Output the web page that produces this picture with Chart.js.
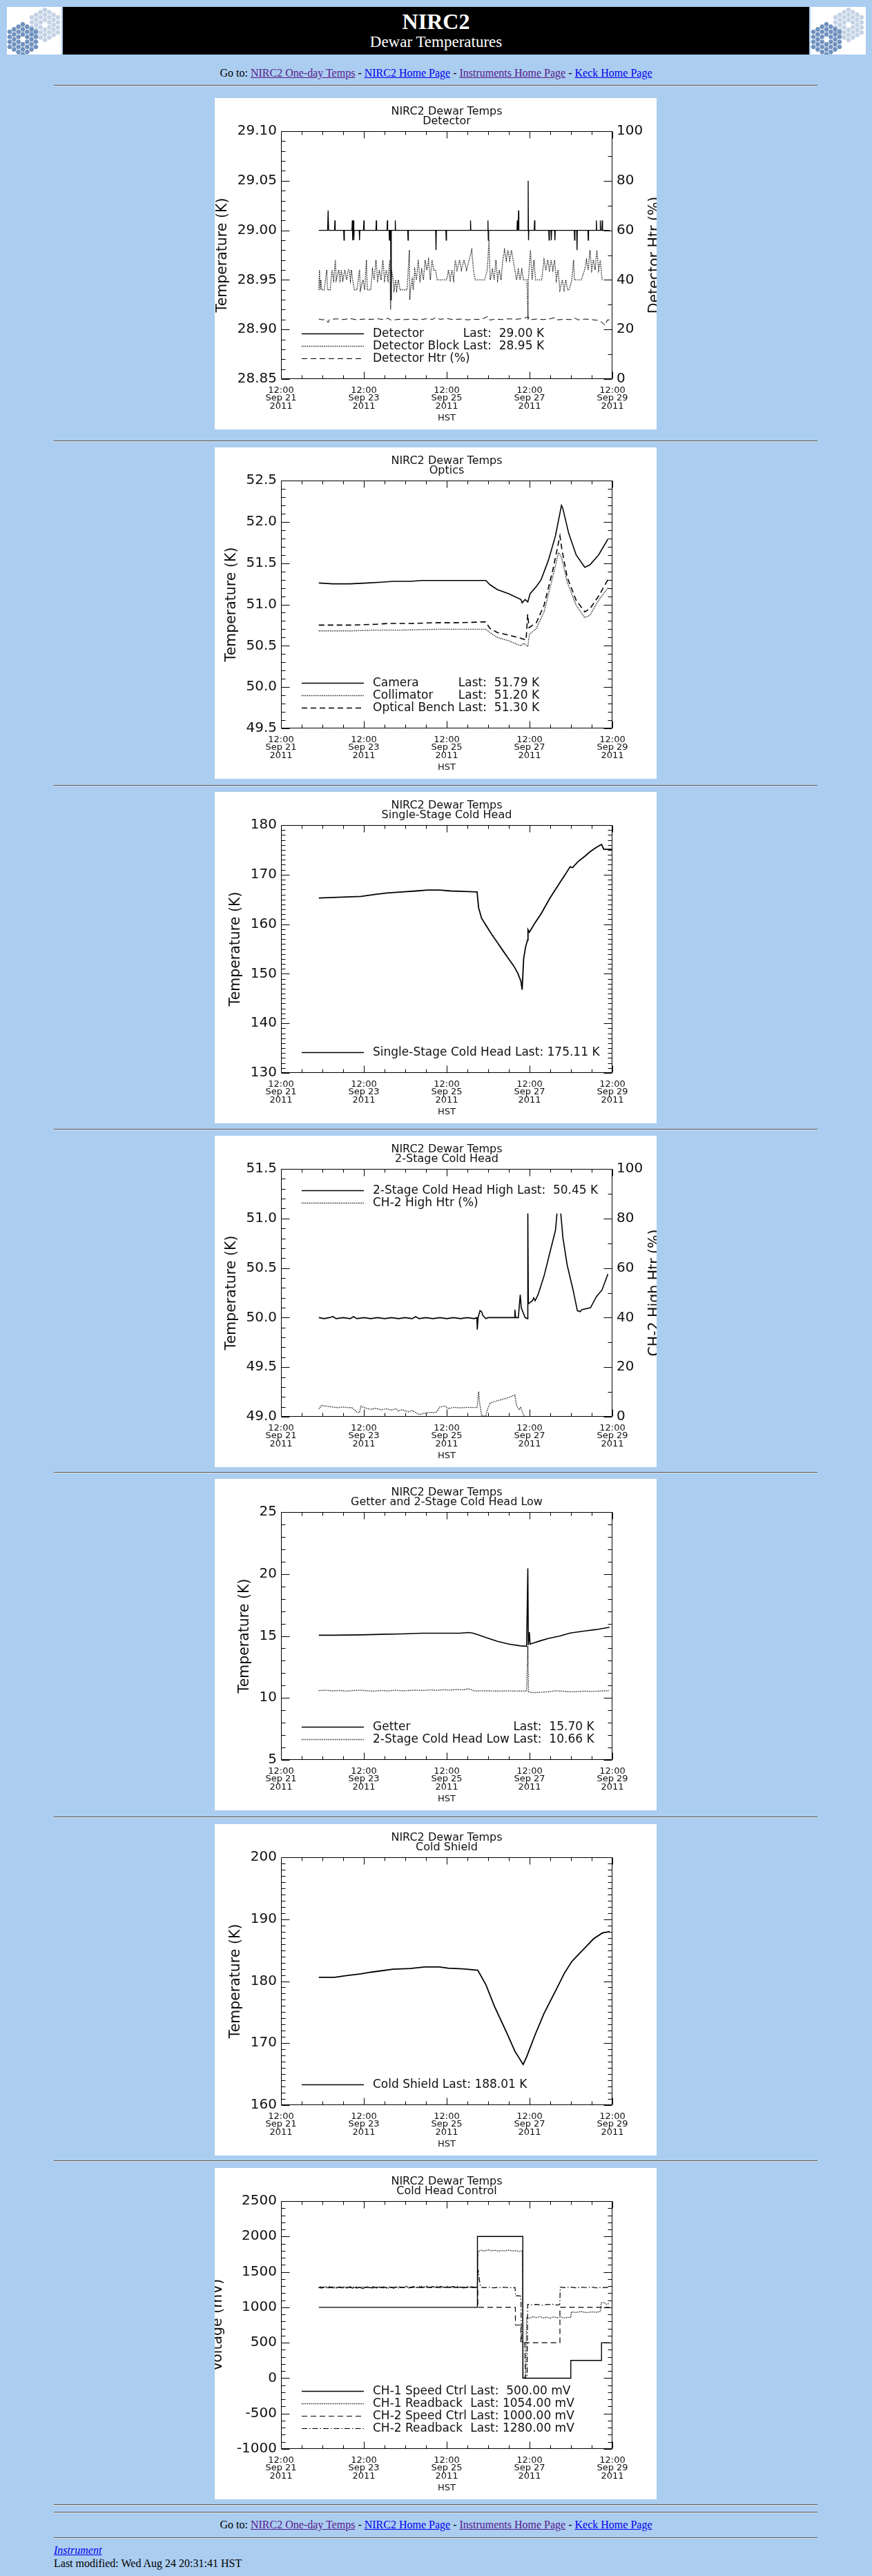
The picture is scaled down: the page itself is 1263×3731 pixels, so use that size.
<!DOCTYPE html>
<html lang="en">

<head>
    <meta charset="utf-8">
    <title>NIRC2 Dewar Temperatures</title>
    <script src="https://cdn.jsdelivr.net/npm/chart.js@4.4.0/dist/chart.umd.min.js"></script>
    <style>
        html, body {
            margin: 0;
            padding: 0;
            background: #abcdf0;
        }

        #page {
            position: relative;
            width: 1263px;
            height: 3731px;
            overflow: hidden;
            font-family: "Liberation Serif", "Times New Roman", serif;
            color: #000;
        }

        .banner { position: absolute; left: 10px; top: 10px; width: 1244px; height: 69px; }
        .banner svg { position: absolute; top: 0; height: 69px; }
        .banner .black { position: absolute; left: 81px; top: 0; width: 1081px; height: 69px; background: #000; color: #fff; text-align: center; }
        .banner .t1 { position: absolute; left: 0; right: 0; top: 5px; font-size: 32px; line-height: 32px; font-weight: bold; }
        .banner .t2 { position: absolute; left: 0; right: 0; top: 39px; font-size: 23px; line-height: 23px; }

        .goto { position: absolute; left: 0; width: 1263px; text-align: center; font-size: 16px; line-height: 16px; }
        a { color: #0000ee; }
        a.seen { color: #551a8b; }

        .rule { position: absolute; left: 78px; width: 1106px; height: 0; border-top: 1px solid #555; border-bottom: 1px solid #e4e4e4; }

        .panel { position: absolute; left: 311px; width: 640px; height: 480px; background: #fff; }

        .foot { position: absolute; left: 78px; font-size: 16px; line-height: 16px; }
    </style>
</head>

<body>
<div id="page">
    <div class="banner">
        <svg id="logoL" style="left:0;width:79px" viewBox="0 0 79 69"></svg>
        <div class="black">
            <div class="t1">NIRC2</div>
            <div class="t2">Dewar Temperatures</div>
        </div>
        <svg id="logoR" style="left:1164px;width:80px" viewBox="0 0 80 69"></svg>
    </div>

    <div class="goto" style="top:98px">Go to: <a class="seen" href="#">NIRC2 One-day Temps</a> - <a href="#">NIRC2 Home Page</a> - <a class="seen" href="#">Instruments Home Page</a> - <a href="#">Keck Home Page</a></div>
    <div class="rule" style="top:123px"></div>

    <canvas id="c1" class="panel" width="640" height="480" style="top:142px"></canvas>
    <div class="rule" style="top:638px"></div>
    <canvas id="c2" class="panel" width="640" height="480" style="top:648px"></canvas>
    <div class="rule" style="top:1137px"></div>
    <canvas id="c3" class="panel" width="640" height="480" style="top:1147px"></canvas>
    <div class="rule" style="top:1635px"></div>
    <canvas id="c4" class="panel" width="640" height="480" style="top:1645px"></canvas>
    <div class="rule" style="top:2132px"></div>
    <canvas id="c5" class="panel" width="640" height="480" style="top:2142px"></canvas>
    <div class="rule" style="top:2631px"></div>
    <canvas id="c6" class="panel" width="640" height="480" style="top:2642px"></canvas>
    <div class="rule" style="top:3129px"></div>
    <canvas id="c7" class="panel" width="640" height="480" style="top:3140px"></canvas>
    <div class="rule" style="top:3627px"></div>
    <div class="rule" style="top:3638px"></div>

    <div class="goto" style="top:3649px">Go to: <a class="seen" href="#">NIRC2 One-day Temps</a> - <a href="#">NIRC2 Home Page</a> - <a class="seen" href="#">Instruments Home Page</a> - <a href="#">Keck Home Page</a></div>
    <div class="rule" style="top:3675px"></div>

    <div class="foot" style="top:3686px"><a href="#"><i>Instrument</i></a></div>
    <div class="foot" style="top:3705px">Last modified: Wed Aug 24 20:31:41 HST</div>
</div>

<script>
    // ---- x axis: hours since 12:00 Sep 21 2011 (HST)
    const xTicks = [0, 48, 96, 144, 192];
    const xTickLabels = [
        ['12:00', 'Sep 21', '2011'],
        ['12:00', 'Sep 23', '2011'],
        ['12:00', 'Sep 25', '2011'],
        ['12:00', 'Sep 27', '2011'],
        ['12:00', 'Sep 29', '2011']
    ];
    const pctTicks = [0, 20, 40, 60, 80, 100];

    // ---- Detector
    const detTicks = [28.85, 28.90, 28.95, 29.00, 29.05, 29.10];
    const detectorPts = [[21.9,29.00],[27.0,29.00],[27.3,29.02],[27.6,29.00],[31.0,29.00],[31.2,29.01],[31.4,29.00],[36.3,29.00],[36.5,28.99],[36.7,29.00],[41.1,29.00],[41.3,29.01],[41.5,28.99],[41.7,29.00],[42.0,29.01],[42.2,28.99],[42.4,29.00],[45.3,29.00],[45.5,28.99],[45.7,29.00],[47.8,29.00],[48.0,29.01],[48.2,29.00],[55.0,29.00],[55.2,29.01],[55.4,29.00],[61.4,29.00],[61.6,29.01],[61.8,29.00],[62.6,29.00],[62.8,28.99],[63.0,29.00],[63.5,29.00],[63.7,28.93],[63.9,29.00],[66.0,29.00],[66.2,29.01],[66.4,29.00],[73.4,29.00],[73.6,28.99],[73.8,29.00],[89.6,29.00],[89.8,28.98],[90.0,29.00],[95.5,29.00],[95.7,28.99],[95.9,29.00],[109.6,29.00],[109.8,29.01],[110.0,29.00],[119.7,29.00],[119.9,29.01],[120.1,28.99],[120.3,29.00],[136.7,29.00],[136.9,29.01],[137.1,29.00],[137.4,29.00],[137.6,29.02],[137.8,29.00],[143.0,29.00],[143.2,29.05],[143.4,28.99],[143.6,29.00],[146.7,29.00],[146.9,29.01],[147.1,29.00],[155.1,29.00],[155.3,28.99],[155.5,29.00],[156.4,29.00],[156.6,28.99],[156.8,29.00],[158.5,29.00],[158.7,28.99],[158.9,29.00],[169.9,29.00],[170.1,28.99],[170.3,29.00],[171.3,29.00],[171.5,28.98],[171.7,29.00],[177.8,29.00],[178.0,28.99],[178.2,29.00],[182.5,29.00],[182.7,29.01],[182.9,29.00],[184.8,29.00],[185.0,29.01],[185.2,29.00],[185.9,29.00],[186.1,29.01],[186.3,29.00],[190.3,29.00]];
    const detBlockPts = [[21.9,28.94],[22.3,28.96],[22.7,28.94],[23.1,28.95],[23.6,28.94],[25.0,28.94],[26.5,28.96],[27.0,28.94],[28.5,28.94],[29.5,28.96],[30.5,28.95],[31.5,28.97],[32.0,28.95],[33.5,28.96],[34.2,28.95],[35.0,28.96],[35.8,28.95],[37.0,28.96],[38.0,28.95],[39.0,28.96],[39.6,28.96],[40.2,28.95],[40.8,28.96],[41.5,28.95],[42.5,28.94],[44.0,28.94],[45.5,28.96],[46.0,28.94],[47.5,28.95],[48.5,28.94],[49.5,28.97],[50.0,28.94],[52.0,28.94],[53.0,28.96],[54.0,28.95],[55.0,28.97],[56.0,28.95],[57.0,28.96],[58.0,28.95],[59.0,28.97],[60.0,28.95],[61.0,28.96],[62.0,28.95],[63.0,28.97],[63.5,28.92],[64.0,28.96],[65.0,28.95],[65.5,28.94],[66.5,28.95],[67.0,28.94],[68.0,28.95],[69.0,28.94],[71.0,28.94],[73.0,28.94],[74.4,28.98],[74.6,28.93],[75.0,28.94],[76.0,28.95],[76.6,28.94],[77.5,28.96],[78.5,28.95],[79.5,28.97],[80.5,28.95],[81.5,28.96],[82.5,28.95],[83.5,28.97],[84.5,28.96],[85.5,28.97],[86.5,28.95],[87.5,28.97],[88.5,28.96],[89.5,28.96],[90.5,28.95],[92.0,28.95],[94.0,28.95],[96.0,28.95],[97.0,28.96],[98.0,28.95],[99.0,28.96],[100.0,28.95],[101.0,28.97],[102.0,28.96],[103.5,28.97],[104.5,28.96],[106.0,28.97],[107.5,28.96],[109.0,28.97],[110.5,28.98],[111.5,28.96],[112.5,28.95],[114.0,28.95],[116.0,28.95],[118.0,28.95],[119.5,28.96],[120.5,28.99],[121.2,28.95],[122.5,28.96],[123.5,28.95],[124.5,28.97],[125.5,28.95],[126.5,28.96],[127.5,28.95],[128.5,28.97],[129.5,28.98],[130.5,28.97],[131.5,28.98],[132.5,28.97],[133.5,28.98],[134.5,28.97],[135.5,28.96],[136.5,28.95],[137.5,28.96],[138.5,28.95],[139.5,28.96],[140.5,28.95],[142.5,28.95],[143.1,28.91],[143.3,28.95],[144.5,28.98],[145.5,28.95],[146.5,28.97],[147.5,28.95],[149.0,28.95],[151.0,28.95],[152.4,28.97],[153.5,28.96],[154.5,28.97],[155.5,28.96],[156.5,28.97],[157.5,28.96],[158.5,28.97],[159.5,28.95],[160.5,28.96],[161.6,28.94],[163.0,28.95],[164.0,28.94],[165.0,28.95],[166.0,28.94],[167.0,28.94],[168.5,28.95],[169.5,28.97],[170.0,28.95],[172.0,28.95],[174.0,28.95],[175.9,28.96],[177.0,28.97],[178.0,28.96],[179.0,28.98],[180.0,28.96],[181.0,28.97],[182.0,28.96],[183.0,28.98],[184.0,28.96],[185.0,28.97],[186.0,28.95]];
    const detHtrPts = [[21.9,24.2],[24,23.9],[26,24.1],[27.3,22.8],[28,24.0],[32,24.3],[36,24.0],[40,24.4],[44,23.9],[48,24.2],[52,24.1],[56,24.3],[60,24.0],[62,24.5],[64,23.7],[68,24.1],[72,24.0],[76,24.2],[80,23.9],[84,24.3],[88,24.1],[89.8,24.9],[92,24.1],[96,24.4],[100,24.0],[104,24.2],[108,23.9],[112,24.1],[116,24.0],[119.9,25.3],[121,23.8],[124,24.2],[128,24.0],[132,24.3],[136,24.1],[140,24.4],[143.2,25.1],[144,23.9],[148,24.2],[152,24.0],[156,24.3],[158.7,24.8],[160,23.9],[164,24.1],[168,24.0],[170,24.7],[172,23.9],[176,24.2],[180,24.0],[184,23.6],[186,22.8],[188,21.6],[189,23.8],[190.3,23.9]];
    const detLast = ['Last:  29.00 K', 'Last:  28.95 K', ''];

    // ---- Optics
    const optTicks = [49.5, 50.0, 50.5, 51.0, 51.5, 52.0, 52.5];
    const cameraPts = [[21.9,51.26],[30,51.25],[40,51.25],[50,51.26],[58,51.27],[65,51.28],[75,51.28],[81.6,51.29],[100,51.29],[118.7,51.29],[121,51.24],[125.4,51.18],[132,51.13],[139,51.06],[139.7,51.02],[141.4,51.06],[143,51.03],[144.3,51.13],[148,51.22],[150.7,51.30],[155,51.54],[159,51.83],[162.5,52.20],[163.3,52.16],[166.7,51.86],[171,51.60],[176,51.45],[179,51.48],[184,51.60],[189.4,51.79]];
    const collimatorPts = [[21.9,50.68],[40,50.68],[55,50.69],[70,50.69],[90,50.70],[118.7,50.70],[121,50.66],[125.4,50.60],[132,50.56],[139,50.50],[140.6,50.53],[143,50.49],[143.9,50.64],[148,50.71],[152.4,50.91],[157.4,51.33],[160.8,51.63],[162.5,51.57],[165.8,51.27],[171,50.99],[176,50.84],[179,50.87],[184,51.05],[189.4,51.20]];
    const benchPts = [[21.9,50.75],[40,50.75],[55,50.76],[62,50.77],[75,50.77],[90,50.78],[105,50.78],[118.7,50.79],[121,50.71],[125.4,50.66],[132,50.63],[139,50.59],[142,50.57],[142.9,50.88],[143.7,50.72],[148,50.78],[152.4,50.99],[157.4,51.41],[161.6,51.83],[162.8,51.66],[165.8,51.33],[171,51.05],[176,50.91],[179,50.95],[184,51.10],[189.4,51.30]];
    const optLast = ['Last:  51.79 K', 'Last:  51.20 K', 'Last:  51.30 K'];

    // ---- Single-Stage Cold Head
    const ch1Ticks = [130, 140, 150, 160, 170, 180];
    const coldHeadPts = [[21.9,165.3],[30,165.4],[38,165.5],[46.3,165.6],[54,166.0],[61.4,166.3],[70,166.5],[78,166.7],[85,166.9],[92,166.9],[98.5,166.7],[106,166.6],[113.6,166.5],[114.5,163.3],[116.2,161.2],[118.7,159.8],[122,158.0],[125.4,156.3],[128.7,154.6],[132.1,152.9],[135,151.5],[137.2,150.1],[139.0,148.5],[139.7,146.8],[140.6,153.1],[141.7,155.4],[142.8,156.8],[143.1,158.9],[143.9,158.4],[147,160.2],[150.7,162.1],[155.7,165.2],[161.6,168.4],[165,170.2],[167.5,171.6],[168.9,171.4],[172,172.6],[176,173.7],[179,174.6],[182.7,175.5],[185.7,176.1],[187,175.1],[192,175.1]];
    const ch1Last = ['Last: 175.11 K'];

    // ---- 2-Stage Cold Head
    const ch2Ticks = [49.0, 49.5, 50.0, 50.5, 51.0, 51.5];
    const ch2HighPts = [[21.9,50.00],[25,49.99],[28,50.00],[30,50.01],[32,49.99],[36,50.00],[40,49.99],[42,50.01],[44,49.99],[48,50.00],[52,49.99],[56,50.00],[60,49.99],[64,50.00],[68,49.99],[72,50.00],[76,49.99],[78,50.01],[80,49.99],[84,50.00],[88,49.99],[92,50.00],[96,49.99],[100,50.00],[104,49.99],[108,50.00],[112,49.99],[113.5,50.00],[113.7,49.88],[114.2,50.00],[115.3,50.07],[116.2,50.06],[117,50.02],[118.7,49.99],[120,50.00],[135.3,50.00],[135.5,50.08],[135.9,50.00],[137.5,50.00],[138.6,50.23],[139.2,50.10],[141.4,50.00],[142.8,49.99],[143.0,51.05],[143.3,50.14],[145.6,50.17],[146.4,50.20],[147.2,50.17],[148.9,50.23],[152.4,50.42],[155.7,50.65],[159.0,50.88],[159.9,51.05],[161.0,null],[162.1,51.05],[163.3,50.81],[165.8,50.53],[169.2,50.28],[171.7,50.07],[173.4,50.06],[174.2,50.08],[179.3,50.10],[182.7,50.21],[186.0,50.28],[189.4,50.44]];
    const ch2HtrPts = [[21.9,3.2],[23.6,4.6],[26,4.3],[29,4.0],[32.8,3.7],[36,3.9],[39,3.7],[41.2,3.7],[43.8,1.9],[45.5,1.8],[46.3,4.2],[49.6,3.4],[52,3.0],[55,3.4],[58,2.8],[61,3.2],[64,2.7],[66.7,3.3],[68,2.3],[70,2.9],[73.7,2.0],[76,2.5],[80,0.9],[83,1.4],[86,1.7],[90,1.8],[92,3.9],[95,4.3],[97,3.3],[100,3.8],[104,3.6],[108,3.8],[113.6,3.7],[114.5,10.2],[115,6.0],[116.2,0.5],[118.7,0.2],[119.5,2.8],[121.2,5.6],[125.4,6.5],[130.5,7.4],[135.5,8.8],[136.4,4.6],[138,2.8],[138.9,3.7],[140.6,0.5],[142,0],[190,0]];
    const ch2Last = ['Last:  50.45 K', ''];

    // ---- Getter and 2-Stage Cold Head Low
    const getTicks = [5, 10, 15, 20, 25];
    const getterPts = [[21.9,15.06],[30,15.06],[46,15.09],[58,15.13],[70,15.17],[81.6,15.22],[95,15.22],[103.5,15.22],[108.5,15.28],[111,15.24],[114.5,15.09],[118.7,14.87],[125.4,14.57],[132,14.35],[138.9,14.20],[142.3,14.17],[143.0,20.46],[143.3,14.26],[143.9,15.30],[144.3,14.35],[150.7,14.63],[155,14.80],[161.6,15.00],[167.5,15.24],[176,15.40],[182.7,15.52],[189.4,15.68],[190.3,15.70]];
    const ch2LowPts = [[21.9,10.59],[26,10.62],[30,10.57],[34,10.60],[38,10.55],[42,10.60],[46,10.62],[50,10.58],[54,10.55],[58,10.60],[62,10.57],[66,10.62],[70,10.58],[74,10.60],[78,10.63],[82,10.60],[86,10.65],[90,10.62],[94,10.66],[98,10.64],[102,10.68],[105,10.65],[108.8,10.74],[110,10.68],[112,10.56],[116,10.58],[120,10.57],[124,10.56],[128,10.55],[132,10.57],[136,10.55],[140,10.56],[142.3,10.56],[143.0,14.17],[143.4,10.50],[145.6,10.43],[150,10.45],[155,10.50],[159,10.57],[163,10.55],[167,10.50],[172,10.52],[176,10.55],[180,10.52],[185,10.56],[189.4,10.58],[190.3,10.66]];
    const getLast = ['Last:  15.70 K', 'Last:  10.66 K'];

    // ---- Cold Shield
    const shieldTicks = [160, 170, 180, 190, 200];
    const coldShieldPts = [[21.9,180.63],[31.1,180.63],[38,180.9],[46.3,181.19],[52,181.45],[58,181.67],[64.8,181.93],[74.9,182.04],[83.3,182.3],[91.7,182.3],[96.8,182.1],[105.3,182.0],[114,181.78],[118.7,179.44],[123.7,175.93],[130.5,171.85],[135.5,168.7],[140.3,166.56],[142.3,167.78],[147.4,171.48],[152.4,174.8],[159.2,178.5],[164.2,181.3],[168.4,183.15],[171,183.9],[176,185.37],[181.1,186.85],[186.2,187.78],[190.4,188.01]];
    const shieldLast = ['Last: 188.01 K'];

    // ---- Cold Head Control
    const voltTicks = [-1000, -500, 0, 500, 1000, 1500, 2000, 2500];
    const ch1CtrlPts = [[21.9,1000],[113.8,2000],[140.1,0],[167.9,250],[185.7,500],[190.4,500]];
    const ch1ReadPts = [[21.9,1275],[23,1290],[24.5,1280],[26,1295],[27.5,1270],[29,1285],[30.5,1290],[32,1272],[33.5,1286],[35,1278],[36.5,1293],[38,1270],[39.5,1284],[41,1276],[42.5,1290],[44,1268],[45.5,1282],[47,1288],[48.5,1273],[50,1291],[51.5,1279],[53,1270],[54.5,1287],[56,1281],[57.5,1294],[59,1275],[60.5,1283],[62,1270],[63.5,1288],[65,1279],[66.5,1292],[68,1274],[69.5,1286],[71,1280],[72.5,1295],[74,1271],[75.5,1285],[77,1290],[78.5,1276],[80,1288],[81.5,1295],[83,1280],[84.5,1300],[86,1278],[87.5,1290],[89,1283],[90.5,1296],[92,1275],[93.5,1289],[95,1280],[96.5,1298],[98,1277],[99.5,1290],[101,1284],[102.5,1293],[104,1276],[105.5,1288],[107,1281],[108.5,1292],[110,1275],[111.5,1287],[113,1280],[113.8,1290],[114.2,1790],[116,1805],[118,1795],[120,1812],[122,1798],[124,1806],[126,1792],[128,1803],[130,1797],[132,1810],[134,1795],[136,1802],[138,1790],[139.8,1800],[140.3,20],[141.8,0],[142.3,860],[144,848],[146,866],[148,855],[150,870],[152,850],[154,862],[156,845],[158,868],[160,852],[162,865],[164,848],[166,860],[167.9,855],[168.2,935],[171,928],[174,940],[177,925],[180,936],[183,930],[185.2,945],[185.5,1060],[187,1070],[188.5,1045],[190.4,1054]];
    const ch2CtrlPts = [[21.9,1280],[114.0,1000],[135.8,750],[139.0,500],[161.6,1000],[190.4,1000]];
    const ch2ReadPts = [[21.9,1282],[23.5,1270],[25,1288],[26.5,1276],[28,1292],[29.5,1280],[31,1268],[32.5,1285],[34,1290],[35.5,1274],[37,1286],[38.5,1279],[40,1293],[41.5,1271],[43,1284],[44.5,1290],[46,1277],[47.5,1266],[49,1288],[50.5,1282],[52,1275],[53.5,1291],[55,1270],[56.5,1284],[58,1278],[59.5,1290],[61,1273],[62.5,1287],[64,1281],[65.5,1269],[67,1286],[68.5,1292],[70,1277],[71.5,1284],[73,1295],[74.5,1278],[76,1289],[77.5,1296],[79,1282],[80.5,1291],[82,1276],[83.5,1299],[85,1285],[86.5,1280],[88,1294],[89.5,1277],[91,1288],[92.5,1298],[94,1282],[95.5,1291],[97,1279],[98.5,1287],[100,1295],[101.5,1278],[103,1290],[104.5,1283],[106,1274],[107.5,1289],[109,1280],[110.5,1292],[112,1277],[113.6,1285],[114.3,1530],[114.9,1390],[115.6,1290],[117,1278],[120,1282],[123,1276],[126,1280],[129,1284],[132,1277],[135.6,1280],[135.9,1160],[137,1165],[139.0,1158],[139.3,520],[141.2,500],[141.6,0],[142.6,0],[142.9,1040],[145,1035],[148,1042],[151,1030],[154,1038],[157,1044],[160,1032],[161.5,1040],[161.8,1285],[165,1278],[168,1284],[171,1276],[174,1282],[177,1279],[180,1286],[183,1274],[186,1281],[190.4,1280]];
    const voltLast = ['Last:  500.00 mV', 'Last: 1054.00 mV', 'Last: 1000.00 mV', 'Last: 1280.00 mV'];

    // ---- styling
    Chart.defaults.font.family = '"DejaVu Sans", sans-serif';
    Chart.defaults.color = '#111';
    const DASH = { solid: [], dot: [1.2, 1.5], dash: [8, 5], dashdot: [8, 3, 1.5, 3] };

    function toXY(arr) {
        return arr.map(p => ({ x: p[0], y: p[1] }));
    }

    function steps(min, max, step) {
        const out = [];
        const n = Math.round((max - min) / step);
        for (let i = 0; i <= n; i++) out.push(min + i * step);
        return out;
    }

    // IDL style box: inward ticks on four sides, legend inside, right title
    const idlFrame = {
        id: 'idlFrame',
        afterDatasetsDraw(chart, args, opts) {
            const { ctx, chartArea: a, scales } = chart;
            const L = Math.round(a.left) + 0.5, R = Math.round(a.right) - 0.5;
            const T = Math.round(a.top) + 0.5, B = Math.round(a.bottom) - 0.5;
            ctx.save();
            ctx.strokeStyle = '#000';
            ctx.lineWidth = 1;
            ctx.setLineDash([]);
            ctx.beginPath();
            ctx.rect(L, T, R - L, B - T);
            const xs = scales.x;
            steps(xs.min, xs.max, 12).forEach(v => {
                const px = Math.round(xs.getPixelForValue(v)) + 0.5;
                const len = xTicks.includes(v) ? 10 : 5;
                ctx.moveTo(px, B); ctx.lineTo(px, B - len);
                ctx.moveTo(px, T); ctx.lineTo(px, T + len);
            });
            const side = (sc, major, minor, x0, dir) => {
                steps(sc.min, sc.max, minor).forEach(v => {
                    const py = Math.round(sc.getPixelForValue(v)) + 0.5;
                    const isMajor = major.some(m => Math.abs(m - v) < minor / 10);
                    ctx.moveTo(x0, py); ctx.lineTo(x0 + dir * (isMajor ? 12 : 6), py);
                });
            };
            side(scales.y, opts.yMajor, opts.yMinor, L, 1);
            if (scales.y1) side(scales.y1, pctTicks, 10, R, -1);
            else side(scales.y, opts.yMajor, opts.yMinor, R, -1);
            ctx.stroke();

            // legend
            const sets = chart.data.datasets;
            ctx.font = '17px "DejaVu Sans"';
            ctx.textBaseline = 'middle';
            ctx.fillStyle = '#111';
            const named = sets.filter((d, i) => opts.last[i]).map(d => ctx.measureText(d.label).width);
            const col = Math.max(0, ...named) + ctx.measureText(' ').width;
            sets.forEach((d, i) => {
                const y = opts.legendTop ? a.top + 32 + i * 18 : a.bottom - 29.5 - (sets.length - 1 - i) * 18;
                const ly = Math.round(y - 1) + 0.5;
                ctx.beginPath();
                ctx.lineWidth = Math.min(d.borderWidth, 1.3);
                ctx.setLineDash(d.borderDash);
                ctx.moveTo(a.left + 30, ly);
                ctx.lineTo(a.left + 120, ly);
                ctx.stroke();
                ctx.fillText(d.label, a.left + 133, y);
                if (opts.last[i]) ctx.fillText(opts.last[i], a.left + 133 + col, y);
            });

            if (opts.rightTitle) {
                ctx.translate(chart.width - 2, (a.top + a.bottom) / 2);
                ctx.rotate(-Math.PI / 2);
                ctx.font = '20.5px "DejaVu Sans"';
                ctx.textAlign = 'center';
                ctx.fillText(opts.rightTitle, 0, 0);
            }
            ctx.restore();
        }
    };

    const noGrid = { display: false, drawTicks: false, tickLength: 0 };

    function makeChart(id, o) {
        const datasets = o.series.map(s => ({
            label: s.name,
            data: toXY(s.pts),
            borderColor: '#000',
            borderWidth: s.width || 1,
            borderDash: DASH[s.style],
            pointRadius: 0,
            tension: 0,
            stepped: s.stepped || false,
            spanGaps: false,
            yAxisID: s.axis || 'y'
        }));
        const scales = {
            x: {
                type: 'linear', min: 0, max: 192,
                afterBuildTicks: sc => { sc.ticks = xTicks.map(v => ({ value: v })); },
                ticks: { autoSkip: false, maxRotation: 0, padding: 10.5, font: { size: 13, lineHeight: 0.9 },
                    callback: v => xTickLabels[xTicks.indexOf(v)] },
                grid: noGrid,
                border: { display: false },
                title: { display: true, text: 'HST', font: { size: 13, lineHeight: 1 }, padding: { top: 0, bottom: 9.5 } },
                afterFit: sc => { sc.height = 73; }
            },
            y: {
                type: 'linear', min: o.yTicks[0], max: o.yTicks[o.yTicks.length - 1],
                afterBuildTicks: sc => { sc.ticks = o.yTicks.map(v => ({ value: v })); },
                ticks: { autoSkip: false, padding: 6, font: { size: 20 }, callback: v => v.toFixed(o.yDec) },
                grid: noGrid,
                border: { display: false },
                title: { display: true, text: o.yTitle || 'Temperature (K)', font: { size: 20.5, lineHeight: 1 },
                    padding: { top: o.yTitlePad, bottom: 0 } },
                afterFit: sc => { sc.width = 96; }
            }
        };
        if (o.rightTitle) {
            scales.y1 = {
                type: 'linear', position: 'right', min: 0, max: 100,
                afterBuildTicks: sc => { sc.ticks = pctTicks.map(v => ({ value: v })); },
                ticks: { autoSkip: false, padding: 6, font: { size: 20 }, callback: v => String(v) },
                grid: noGrid,
                border: { display: false },
                afterFit: sc => { sc.width = 64; }
            };
        }
        return new Chart(document.getElementById(id), {
            type: 'line',
            data: { datasets },
            options: {
                responsive: false,
                animation: false,
                events: [],
                layout: { padding: { right: o.rightTitle ? 0 : 64 } },
                scales,
                plugins: {
                    legend: { display: false },
                    tooltip: { enabled: false },
                    title: { display: true, text: 'NIRC2 Dewar Temps', fullSize: false, color: '#111',
                        font: { size: 16, weight: 'normal', lineHeight: 1 }, padding: { top: 11.7, bottom: 0 } },
                    subtitle: { display: true, text: o.sub, fullSize: false, color: '#111',
                        font: { size: 16, weight: 'normal', lineHeight: 1 }, padding: { top: -2, bottom: 6.3 } },
                    idlFrame: { yMajor: o.yTicks, yMinor: o.yMinor, last: o.last, legendTop: !!o.legendTop, rightTitle: o.rightTitle }
                }
            },
            plugins: [idlFrame]
        });
    }

    makeChart('c1', {
        sub: 'Detector', yTicks: detTicks, yMinor: 0.01, yDec: 2, yTitlePad: 1.4, rightTitle: 'Detector Htr (%)', last: detLast,
        series: [
            { name: 'Detector', pts: detectorPts, style: 'solid', width: 1.3 },
            { name: 'Detector Block', pts: detBlockPts, style: 'dot', width: 1.4 },
            { name: 'Detector Htr (%)', pts: detHtrPts, style: 'dash', axis: 'y1' }
        ]
    });

    makeChart('c2', {
        sub: 'Optics', yTicks: optTicks, yMinor: 0.1, yDec: 1, yTitlePad: 14, last: optLast,
        series: [
            { name: 'Camera', pts: cameraPts, style: 'solid', width: 1.6 },
            { name: 'Collimator', pts: collimatorPts, style: 'dot', width: 1.4 },
            { name: 'Optical Bench', pts: benchPts, style: 'dash', width: 1.6 }
        ]
    });

    makeChart('c3', {
        sub: 'Single-Stage Cold Head', yTicks: ch1Ticks, yMinor: 1, yDec: 0, yTitlePad: 20.4, last: ch1Last,
        series: [
            { name: 'Single-Stage Cold Head', pts: coldHeadPts, style: 'solid', width: 1.8 }
        ]
    });

    makeChart('c4', {
        sub: '2-Stage Cold Head', yTicks: ch2Ticks, yMinor: 0.1, yDec: 1, yTitlePad: 14, rightTitle: 'CH-2 High Htr (%)',
        legendTop: true, last: ch2Last,
        series: [
            { name: '2-Stage Cold Head High', pts: ch2HighPts, style: 'solid', width: 1.6 },
            { name: 'CH-2 High Htr (%)', pts: ch2HtrPts, style: 'dot', width: 1.4, axis: 'y1' }
        ]
    });

    makeChart('c5', {
        sub: 'Getter and 2-Stage Cold Head Low', yTicks: getTicks, yMinor: 1, yDec: 0, yTitlePad: 33, last: getLast,
        series: [
            { name: 'Getter', pts: getterPts, style: 'solid', width: 1.6 },
            { name: '2-Stage Cold Head Low', pts: ch2LowPts, style: 'dot', width: 1.4 }
        ]
    });

    makeChart('c6', {
        sub: 'Cold Shield', yTicks: shieldTicks, yMinor: 1, yDec: 0, yTitlePad: 20.4, last: shieldLast,
        series: [
            { name: 'Cold Shield', pts: coldShieldPts, style: 'solid', width: 1.8 }
        ]
    });

    makeChart('c7', {
        sub: 'Cold Head Control', yTicks: voltTicks, yMinor: 100, yDec: 0, yTitlePad: -6, yTitle: 'Voltage (mV)', last: voltLast,
        series: [
            { name: 'CH-1 Speed Ctrl', pts: ch1CtrlPts, style: 'solid', width: 1.4, stepped: true },
            { name: 'CH-1 Readback', pts: ch1ReadPts, style: 'dot', width: 1.4 },
            { name: 'CH-2 Speed Ctrl', pts: ch2CtrlPts, style: 'dash', width: 1.2, stepped: true },
            { name: 'CH-2 Readback', pts: ch2ReadPts, style: 'dashdot', width: 1.2 }
        ]
    });

    // Keck mirror logos (decoration)
    function hexLogo(svg) {
        const s = 4.2, r3 = Math.sqrt(3);
        const mirrors = [{ cx: 55, cy: 26, fill: '#c4d2e5' }, { cx: 23, cy: 47, fill: '#6f91be' }];
        let html = '<rect width="80" height="69" fill="#fff"/>';
        mirrors.forEach(m => {
            for (let q = -3; q <= 3; q++) {
                for (let r = -3; r <= 3; r++) {
                    if (Math.abs(q + r) > 3 || (q === 0 && r === 0)) continue;
                    const x = m.cx + 1.5 * s * q, y = m.cy + r3 * s * (r + q / 2);
                    const p = [];
                    for (let k = 0; k < 6; k++) {
                        const ang = Math.PI / 3 * k;
                        p.push((x + s * 0.88 * Math.cos(ang)).toFixed(1) + ',' + (y + s * 0.88 * Math.sin(ang)).toFixed(1));
                    }
                    html += '<polygon points="' + p.join(' ') + '" fill="' + m.fill + '"/>';
                }
            }
        });
        svg.innerHTML = html;
    }
    hexLogo(document.getElementById('logoL'));
    hexLogo(document.getElementById('logoR'));
</script>
</body>

</html>
